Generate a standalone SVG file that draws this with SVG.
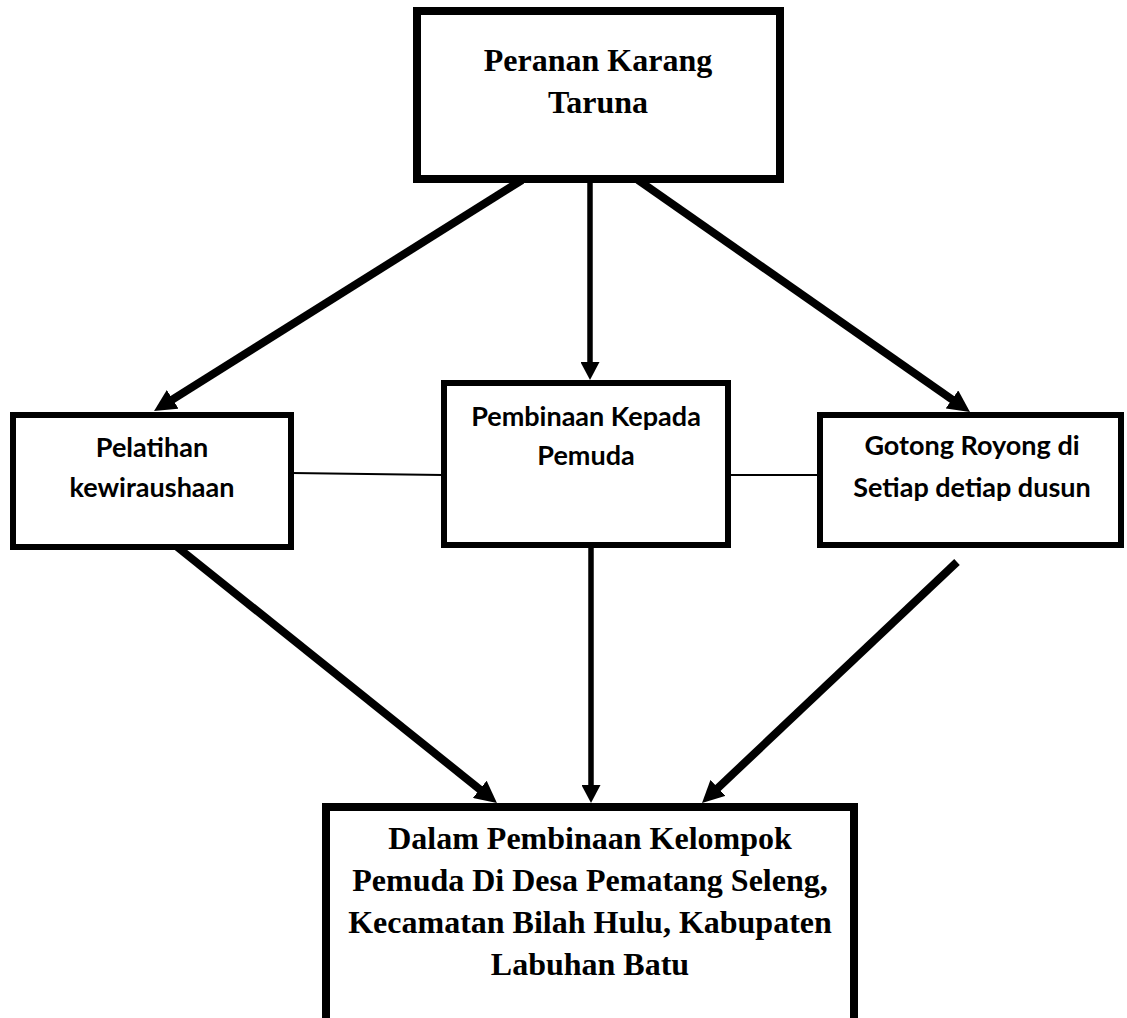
<svg xmlns="http://www.w3.org/2000/svg" width="1127" height="1018" viewBox="0 0 1127 1018">
<style>
.box{fill:#fff;stroke:#000}
.serif{font-family:"Liberation Serif","Times New Roman",serif;font-weight:bold;font-size:32px;fill:#000;text-anchor:middle}
.sans{font-family:Lato,"Open Sans","Liberation Sans",sans-serif;font-weight:bold;font-size:27px;fill:#000;text-anchor:middle}
.thick{stroke:#000;stroke-width:8;fill:none;marker-end:url(#ah)}
.mid{stroke:#000;stroke-width:5.5;fill:none;marker-end:url(#ahs)}
.thin{stroke:#000;stroke-width:2;fill:none}
</style>
<defs>
<marker id="ah" viewBox="0 0 22 22" markerWidth="22" markerHeight="22" markerUnits="userSpaceOnUse" refX="8" refY="11" orient="auto">
<path d="M0,0 L22,11 L0,22 z" fill="#000"/>
</marker>
<marker id="ahs" viewBox="0 0 18 19" markerWidth="18" markerHeight="19" markerUnits="userSpaceOnUse" refX="6" refY="9.5" orient="auto">
<path d="M0,0 L18,9.5 L0,19 z" fill="#000"/>
</marker>
</defs>
<rect width="1127" height="1018" fill="#fff"/>
<g id="connectors">
<line class="thick" x1="522" y1="180" x2="165.9" y2="403.6"/>
<line class="mid" x1="590" y1="180" x2="590" y2="368"/>
<line class="thick" x1="638" y1="180" x2="958.5" y2="404"/>
<line class="thick" x1="176" y1="546" x2="486" y2="794.3"/>
<line class="mid" x1="591" y1="545" x2="591" y2="791"/>
<line class="thick" x1="957" y1="562" x2="712.2" y2="793.4"/>
<line class="thin" x1="292" y1="473" x2="443" y2="475"/>
<line class="thin" x1="729" y1="475" x2="819" y2="475"/>
</g>
<g id="node-peranan">
<rect class="box" x="417" y="11" width="363" height="168" stroke-width="8"/>
<text class="serif" x="598" y="71">Peranan Karang</text>
<text class="serif" x="598" y="113">Taruna</text>
</g>
<g id="node-pelatihan">
<rect class="box" x="13" y="415" width="278" height="132" stroke-width="6"/>
<text class="sans" x="152" y="457">Pelatihan</text>
<text class="sans" x="152" y="497">kewiraushaan</text>
</g>
<g id="node-pembinaan">
<rect class="box" x="444" y="383" width="284" height="162" stroke-width="6"/>
<text class="sans" x="586" y="426">Pembinaan Kepada</text>
<text class="sans" x="586" y="465">Pemuda</text>
</g>
<g id="node-gotong">
<rect class="box" x="820" y="415" width="301" height="130" stroke-width="6"/>
<text class="sans" x="972" y="455">Gotong Royong di</text>
<text class="sans" x="972" y="497">Setiap detiap dusun</text>
</g>
<g id="node-dalam">
<rect class="box" x="326" y="807" width="528" height="300" stroke-width="8"/>
<text class="serif" x="590" y="849">Dalam Pembinaan Kelompok</text>
<text class="serif" x="590" y="891">Pemuda Di Desa Pematang Seleng,</text>
<text class="serif" x="590" y="933">Kecamatan Bilah Hulu, Kabupaten</text>
<text class="serif" x="590" y="975">Labuhan Batu</text>
</g>
</svg>
